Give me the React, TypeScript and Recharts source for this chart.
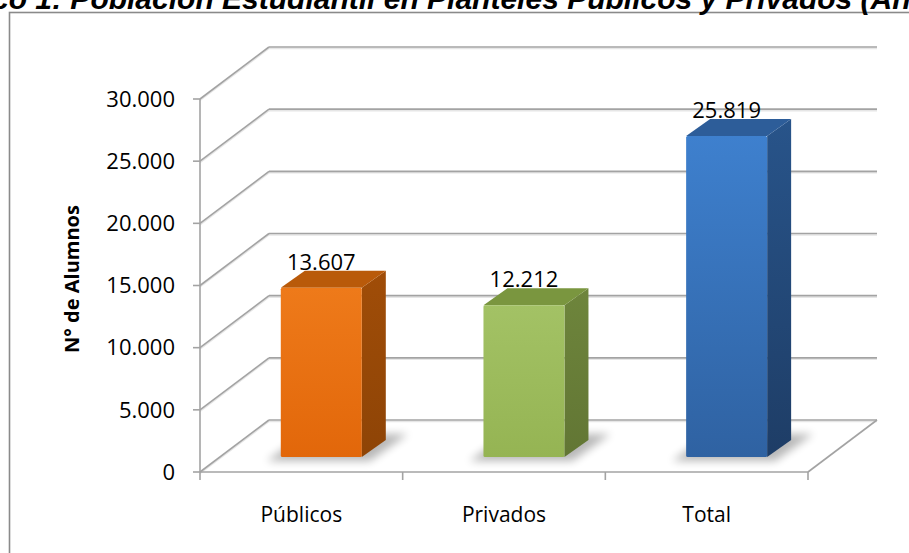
import React from 'react';
import { BarChart, Bar, XAxis, YAxis, CartesianGrid, LabelList } from 'recharts';

// ---------- data ----------
const categories = ['Públicos', 'Privados', 'Total'];
const studentCounts = [13607, 12212, 25819];
const yTicks = [0, 5000, 10000, 15000, 20000, 25000, 30000];
const titleText = 'Gráfico 1: Población Estudiantil en Planteles Públicos y Privados (Año 2012)';
const yAxisTitle = 'N° de Alumnos';

const data = categories.map((name, i) => ({ name, value: studentCounts[i] }));

// ---------- layout / style ----------
const W = 909;
const H = 553;
const PLOT_LEFT = 200;
const PLOT_TOP = 99;
const PLOT_RIGHT = 808;
const PLOT_BOTTOM = 472;
const Y_AXIS_W = 60;
const X_AXIS_H = 30;
const DEPTH_X = 69;
const DEPTH_Y = -52;
const BAR_SHIFT_X = 20;
const BAR_SHIFT_Y = -15;
const SIDE_X = 24;
const SIDE_Y = -17;
const GRID = '#a3a3a3';
const FONT = '"Open Sans", "Noto Sans", sans-serif';

const palette = [
  { front: ['#EE7A1A', '#E2670A'], side: ['#A04D08', '#8E4406'], top: '#B95A0A' },
  { front: ['#A3C265', '#95B453'], side: ['#6E853C', '#627634'], top: '#7A963F' },
  { front: ['#3E80CE', '#2F62A2'], side: ['#28548A', '#1E3D66'], top: '#2D5D99' },
];

const fmt = (n: number) => String(n).replace(/\B(?=(\d{3})+(?!\d))/g, '.');

const gridLine = (props: any) => {
  const { x1, x2, y1 } = props;
  const bx = x1 + DEPTH_X;
  const by = y1 + DEPTH_Y;
  const isFloor = Math.abs(y1 - PLOT_BOTTOM) < 1;
  return (
    <g key={`grid-${y1}`}>
      <line x1={x1} y1={y1 + 1.5} x2={bx} y2={by + 1.5} stroke="#e6e6e6" strokeWidth={1.5} />
      <line x1={bx} y1={by + 1.5} x2={x2 + DEPTH_X} y2={by + 1.5} stroke="#e6e6e6" strokeWidth={1.5} />
      <line x1={x1} y1={y1} x2={bx} y2={by} stroke={GRID} strokeWidth={1.6} />
      <line x1={bx} y1={by} x2={x2 + DEPTH_X} y2={by} stroke={GRID} strokeWidth={1.6} />
      {isFloor && <line x1={x2} y1={y1} x2={x2 + DEPTH_X} y2={by} stroke={GRID} strokeWidth={1.6} />}
    </g>
  );
};

const Bar3D = (props: any) => {
  const { x, y, width, height, index } = props;
  const c = palette[index % palette.length];
  const fx = x + BAR_SHIFT_X;
  const fy = y + BAR_SHIFT_Y;
  const fb = y + height + BAR_SHIFT_Y;
  const fr = fx + width;
  const gid = `bar3d-${index}`;
  return (
    <g>
      <defs>
        <linearGradient id={`${gid}-front`} x1="0" y1="0" x2="0" y2="1">
          <stop offset="0%" stopColor={c.front[0]} />
          <stop offset="100%" stopColor={c.front[1]} />
        </linearGradient>
        <linearGradient id={`${gid}-side`} x1="0" y1="0" x2="0" y2="1">
          <stop offset="0%" stopColor={c.side[0]} />
          <stop offset="100%" stopColor={c.side[1]} />
        </linearGradient>
        <filter id={`${gid}-blur`} x="-30%" y="-60%" width="160%" height="220%">
          <feGaussianBlur stdDeviation="4" />
        </filter>
      </defs>
      <polygon
        points={`${fx - 14},${fb + 4} ${fr + 8},${fb + 4} ${fr + SIDE_X + 22},${fb + SIDE_Y - 6} ${fx + SIDE_X},${fb + SIDE_Y - 6}`}
        fill="#000"
        opacity={0.28}
        filter={`url(#${gid}-blur)`}
      />
      <polygon
        points={`${fr},${fy} ${fr + SIDE_X},${fy + SIDE_Y} ${fr + SIDE_X},${fb + SIDE_Y} ${fr},${fb}`}
        fill={`url(#${gid}-side)`}
      />
      <polygon
        points={`${fx},${fy} ${fx + SIDE_X},${fy + SIDE_Y} ${fr + SIDE_X},${fy + SIDE_Y} ${fr},${fy}`}
        fill={c.top}
      />
      <rect x={fx} y={fy} width={width} height={fb - fy} fill={`url(#${gid}-front)`} rx={1.5} />
    </g>
  );
};

const ValueLabel = (props: any) => {
  const { x, y, width, value } = props;
  return (
    <text
      x={x + width / 2 + BAR_SHIFT_X}
      y={y + BAR_SHIFT_Y - 18}
      textAnchor="middle"
      fontFamily={FONT}
      fontSize={22}
      fill="#000"
    >
      {fmt(value)}
    </text>
  );
};

const XTick = (props: any) => {
  const { x, y, payload, index } = props;
  const half = (PLOT_RIGHT - PLOT_LEFT) / categories.length / 2;
  return (
    <g>
      <line x1={x - half} y1={y} x2={x - half} y2={y + 8} stroke={GRID} strokeWidth={1.6} />
      {index === categories.length - 1 && (
        <line x1={x + half} y1={y} x2={x + half} y2={y + 8} stroke={GRID} strokeWidth={1.6} />
      )}
      <text x={x} y={y + 43} dy="0.35em" textAnchor="middle" fontFamily={FONT} fontSize={21} fill="#000">
        {payload.value}
      </text>
    </g>
  );
};

const YTitle = () => (
  <text
    x={71}
    y={279}
    transform="rotate(-90, 71, 279)"
    textAnchor="middle"
    dominantBaseline="central"
    fontFamily={FONT}
    fontWeight="bold"
    fontSize={20}
    fill="#000"
  >
    {yAxisTitle}
  </text>
);

export default function App() {
  return (
    <div style={{ position: 'absolute', left: 0, top: 0, width: W, height: H, background: '#fff', overflow: 'hidden' }}>
      <svg width={W} height={H} style={{ position: 'absolute', left: 0, top: 0 }}>
        <rect x={9.5} y={12.5} width={1000} height={1000} fill="#fff" stroke="#8a8a8a" strokeWidth={1.6} />
        <text
          x={-78}
          y={9}
          fontFamily='"Liberation Sans", Arial, sans-serif'
          fontWeight="bold"
          fontStyle="italic"
          fontSize={30}
          fill="#000"
        >
          {titleText}
        </text>
      </svg>
      <div style={{ position: 'absolute', left: 0, top: 0 }}>
        <BarChart
          width={W}
          height={H}
          data={data}
          margin={{
            top: PLOT_TOP,
            right: W - PLOT_RIGHT,
            left: PLOT_LEFT - Y_AXIS_W,
            bottom: H - PLOT_BOTTOM - X_AXIS_H,
          }}
          barCategoryGap="30%"
        >
          <CartesianGrid vertical={false} horizontal={gridLine} stroke={GRID} />
          <XAxis
            dataKey="name"
            height={X_AXIS_H}
            axisLine={{ stroke: GRID, strokeWidth: 1.6 }}
            tickLine={false}
            tickSize={0}
            tickMargin={0}
            tick={<XTick />}
            interval={0}
          />
          <YAxis
            width={Y_AXIS_W}
            domain={[0, 30000]}
            ticks={yTicks}
            interval={0}
            tickFormatter={fmt}
            axisLine={{ stroke: GRID, strokeWidth: 1.6 }}
            tickLine={{ stroke: GRID, strokeWidth: 1.6 }}
            tickSize={7}
            tickMargin={18}
            tick={{ fontFamily: FONT, fontSize: 22, fill: '#000' }}
            label={<YTitle />}
          />
          <Bar dataKey="value" shape={<Bar3D />} isAnimationActive={false}>
            <LabelList dataKey="value" content={<ValueLabel />} />
          </Bar>
        </BarChart>
      </div>
    </div>
  );
}
